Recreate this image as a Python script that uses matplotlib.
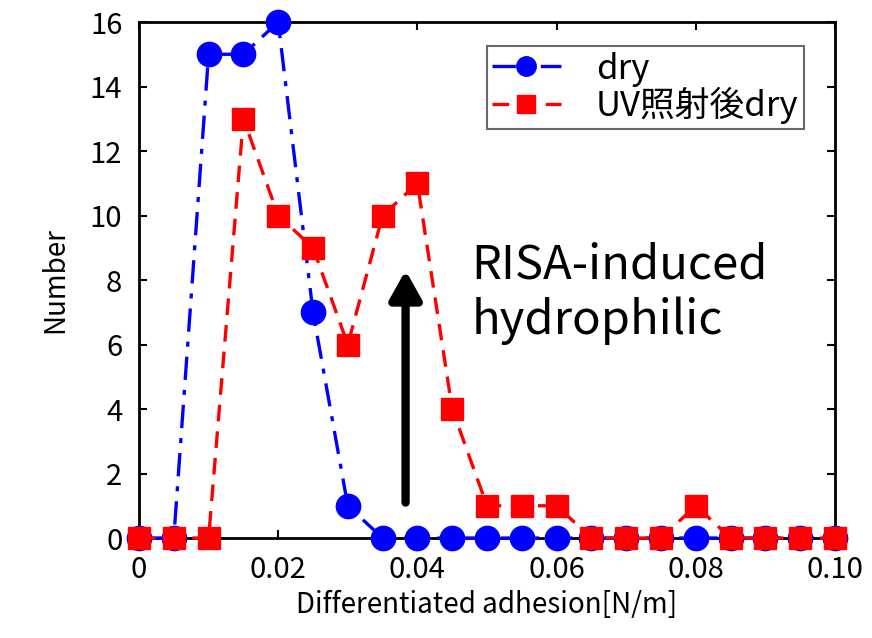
import matplotlib
matplotlib.use("Agg")
import matplotlib.pyplot as plt
import numpy as np

plt.rcParams['font.family'] = ['Noto Sans CJK JP', 'DejaVu Sans']

adhesion = [0.000, 0.005, 0.010, 0.015, 0.020, 0.025, 0.030, 0.035, 0.040, 0.045,
            0.050, 0.055, 0.060, 0.065, 0.070, 0.075, 0.080, 0.085, 0.090, 0.095, 0.100]
dry = [0, 0, 15, 15, 16, 7, 1, 0, 0, 0, 0, 0, 0, 0, 0, 0, 0, 0, 0, 0, 0]
uv_dry = [0, 0, 0, 13, 10, 9, 6, 10, 11, 4, 1, 1, 1, 0, 0, 0, 1, 0, 0, 0, 0]
xticks = [0, 0.02, 0.04, 0.06, 0.08, 0.10]
xticklabels = ["0", "0.02", "0.04", "0.06", "0.08", "0.10"]
yticks = [0, 2, 4, 6, 8, 10, 12, 14, 16]
arrow_x = 0.0383
arrow_from, arrow_to = 1.1, 8.3

fig = plt.figure(figsize=(8.72, 6.38), dpi=100)
ax = fig.add_axes([0.1594, 0.1567, 0.7982, 0.8088])

ax.plot(adhesion, dry, color='#0000ff', linestyle='-.', linewidth=2.4,
        marker='o', markersize=17.5, clip_on=False, zorder=3,
        dashes=(7, 3, 1.5, 3), label='dry')
ax.plot(adhesion, uv_dry, color='#ff0000', linestyle='--', linewidth=2.4,
        marker='s', markersize=16.5, clip_on=False, zorder=4,
        dashes=(5, 3), label='UV照射後dry')

ax.annotate('', xy=(arrow_x, arrow_to), xytext=(arrow_x, arrow_from),
            arrowprops=dict(arrowstyle='-|>,head_width=0.95,head_length=1.7',
                            color='black', linewidth=6, shrinkA=0, shrinkB=0),
            zorder=5)
ax.text(0.0478, 7.6, 'RISA-induced\nhydrophilic', fontsize=34,
        ha='left', va='center', linespacing=1.2)

ax.set_xlim(0, 0.10)
ax.set_ylim(0, 16)
ax.set_xticks(xticks)
ax.set_xticklabels(xticklabels)
ax.set_yticks(yticks)
ax.tick_params(direction='in', top=True, right=True, labelsize=21,
               length=6, width=1.5, pad=12)
for s in ax.spines.values():
    s.set_linewidth(2)

ax.set_xlabel('Differentiated adhesion[N/m]', fontsize=20, labelpad=4)
ax.set_ylabel('Number', fontsize=20, labelpad=14)

leg = ax.legend(loc='upper right', bbox_to_anchor=(0.97, 0.973), fontsize=25,
                frameon=True, fancybox=False, edgecolor='#444444',
                handlelength=2.0, borderpad=0.15, labelspacing=0.0,
                handletextpad=1.0, borderaxespad=0.3, markerscale=0.8)
leg.get_frame().set_linewidth(1.5)

fig.savefig('out.png', dpi=100)
